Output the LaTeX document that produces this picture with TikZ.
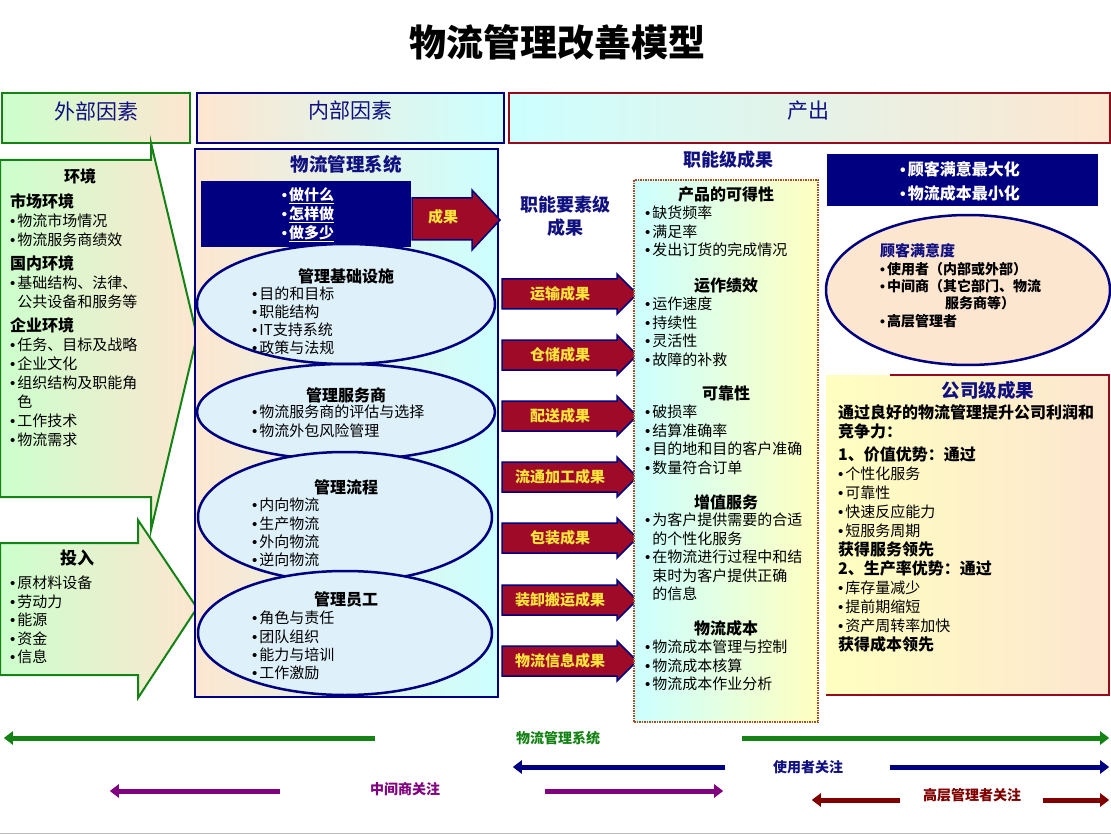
\documentclass[tikz,border=0pt]{standalone}
\usepackage{fontspec}
\setmainfont{Noto Sans CJK SC}
\newfontfamily\bulletfont{Liberation Sans}
\usetikzlibrary{arrows.meta, positioning, shapes.geometric}

\definecolor{navyblue}{RGB}{16,16,128}
\definecolor{boxnavy}{RGB}{0,0,128}
\definecolor{resred}{RGB}{158,10,40}
\definecolor{resyellow}{RGB}{255,228,60}
\definecolor{envgreen}{RGB}{20,130,20}
\definecolor{lgreen}{RGB}{204,255,204}
\definecolor{peach}{RGB}{253,230,208}
\definecolor{lcyan}{RGB}{204,255,255}
\definecolor{lyellow}{RGB}{255,255,192}
\definecolor{ellblue}{RGB}{222,240,250}
\definecolor{dotbrown}{RGB}{160,80,40}
\definecolor{corpred}{RGB}{150,10,30}
\definecolor{midpurple}{RGB}{128,0,128}
\definecolor{topred}{RGB}{128,0,0}
\newcommand{\fs}[2]{\fontsize{#1}{#2}\selectfont}
\newcommand{\hd}[1]{{\bfseries\fontsize{16}{19}\selectfont #1}}
\newcommand{\bu}{{\bulletfont •}\kern2pt}
\newcommand{\ind}{\phantom{\bu}}

\begin{document}
\begin{tikzpicture}[x=1pt, y=-1pt,
  hdr/.style={draw, line width=2pt, inner sep=0pt, minimum height=50pt},
  hdrtext/.style={font=\fs{21}{24}, text=navyblue, inner sep=0pt},
  body/.style={font=\fs{15}{18.5}, align=left, inner sep=0pt, anchor=north west},
  sect/.style={font=\bfseries\fs{16}{19}, inner sep=0pt},
  mgmt/.style={ellipse, draw=boxnavy, line width=2.5pt, fill=ellblue, inner sep=0pt},
  resarrow/.style={fill=resred, draw=boxnavy, line width=1.5pt},
  restext/.style={font=\bfseries\fs{15}{18}, text=resyellow, inner sep=0pt},
  focus/.style={line width=5pt, -{Triangle[width=13pt,length=9pt]}},
  focustext/.style={font=\bfseries\fs{14}{16}, inner sep=0pt}]
\useasboundingbox (0,0) rectangle (1111,834);

\node[font=\bfseries\fs{37}{40}, inner sep=0pt] (title) at (557,42) {物流管理改善模型};

% headers
\node[hdr, draw=envgreen, left color=lgreen, right color=peach, minimum width=188pt] (waibu) at (96,118) {};
\node[hdr, draw=boxnavy, left color=peach, right color=lcyan, minimum width=307pt] (neibu) at (350.5,118) {};
\node[hdr, draw=corpred, left color=lcyan, right color=peach, minimum width=601pt] (chanchu) at (809,118) {};
\node[hdrtext] (waibut) at (96,111) {外部因素};
\node[hdrtext] (neibut) at (350,111) {内部因素};
\node[hdrtext] (chanchut) at (808,111) {产出};

% external factors
\draw[draw=envgreen, line width=2pt, left color=lgreen, right color=peach]
  (0,160) -- (151,160) -- (151,143) -- (197,336) -- (151,530) -- (151,497) -- (0,497) -- cycle;
\draw[draw=envgreen, line width=2pt, left color=lgreen, right color=peach]
  (0,543) -- (138,543) -- (138,520) -- (197,608) -- (138,698) -- (138,675) -- (0,675) -- cycle;
\node[sect] (huanjing) at (80,176) {环境};
\node[body, font=\fs{15}{19}] (huanjinglist) at (10,193) {\hd{市场环境}\\\bu 物流市场情况\\\bu 物流服务商绩效\\[5pt]\hd{国内环境}\\\bu 基础结构、法律、\\\ind 公共设备和服务等\\[5pt]\hd{企业环境}\\\bu 任务、目标及战略\\\bu 企业文化\\\bu 组织结构及职能角\\\ind 色\\\bu 工作技术\\\bu 物流需求};
\node[sect, font=\bfseries\fs{17}{19}] (touru) at (77,558) {投入};
\node[body] (tourulist) at (10,576) {\bu 原材料设备\\\bu 劳动力\\\bu 能源\\\bu 资金\\\bu 信息};

% internal factors
\node[draw=boxnavy, line width=2pt, left color=peach, right color=lcyan, minimum width=303pt, minimum height=548pt, inner sep=0pt] (xitongbox) at (346.5,423) {};
\node[font=\bfseries\fs{18.5}{22}, text=navyblue, inner sep=0pt] (xitongt) at (346,164) {物流管理系统};
\node[fill=boxnavy, minimum width=210pt, minimum height=66pt, inner sep=0pt] (zuo) at (306,214) {};
\node[font=\bfseries\fs{15}{19}, text=white, align=left, inner sep=0pt] (zuot) at (308,215) {\bu\underline{做什么}\\\bu\underline{怎样做}\\\bu\underline{做多少}};
\draw[resarrow] (412,198) -- (472,198) -- (472,190) -- (500,220) -- (472,250) -- (472,240) -- (412,240) -- cycle;
\node[restext] (chengguo) at (443,217) {成果};

\node[mgmt, minimum width=298pt, minimum height=120pt] (jichu) at (346,304) {};
\node[sect] (jichut) at (346,276) {管理基础设施};
\node[body, font=\fs{15}{18}] (jichulist) at (252,287) {\bu 目的和目标\\\bu 职能结构\\\bu IT支持系统\\\bu 政策与法规};
\node[mgmt, minimum width=298pt, minimum height=96pt] (fuwu) at (346,412) {};
\node[sect] (fuwut) at (346,395) {管理服务商};
\node[body, font=\fs{15}{19}] (fuwulist) at (252,405) {\bu 物流服务商的评估与选择\\\bu 物流外包风险管理};
\node[mgmt, minimum width=294pt, minimum height=130pt] (liucheng) at (345,517) {};
\node[sect] (liuchengt) at (346,487) {管理流程};
\node[body, font=\fs{15}{18.3}] (liuchenglist) at (252,498) {\bu 内向物流\\\bu 生产物流\\\bu 外向物流\\\bu 逆向物流};
\node[mgmt, minimum width=294pt, minimum height=124pt] (yuangong) at (345,633) {};
\node[sect] (yuangongt) at (346,599) {管理员工};
\node[body, font=\fs{15}{18.3}] (yuangonglist) at (252,611) {\bu 角色与责任\\\bu 团队组织\\\bu 能力与培训\\\bu 工作激励};

% function element results
\node[font=\bfseries\fs{18}{23}, text=navyblue, align=center, inner sep=0pt] (yaosu) at (565,216) {职能要素级\\成果};
\foreach \nm/\txt/\yy in {yunshu/运输成果/294, cangchu/仓储成果/355, peisong/配送成果/416,
    jiagong/流通加工成果/477, baozhuang/包装成果/538, banyun/装卸搬运成果/600, xinxi/物流信息成果/661} {
  \draw[resarrow] (502,\yy-15) -- (617,\yy-15) -- (617,\yy-20) -- (637,\yy) -- (617,\yy+20) -- (617,\yy+15) -- (502,\yy+15) -- cycle;
  \node[restext] (\nm) at (560,\yy) {\txt};
}

% function level results
\node[font=\bfseries\fs{18}{22}, text=navyblue, inner sep=0pt] (zhineng) at (728,160) {职能级成果};
\node[draw=dotbrown, line width=1.5pt, densely dotted, left color=lcyan, right color=lyellow, minimum width=184pt, minimum height=542pt, inner sep=0pt] (zhinengbox) at (726,451) {};
\node[sect] (kedexing) at (726,194) {产品的可得性};
\node[body] (kedexinglist) at (645,206) {\bu 缺货频率\\\bu 满足率\\\bu 发出订货的完成情况};
\node[sect] (yunzuo) at (726,285) {运作绩效};
\node[body] (yunzuolist) at (645,297) {\bu 运作速度\\\bu 持续性\\\bu 灵活性\\\bu 故障的补救};
\node[sect] (kekao) at (726,393) {可靠性};
\node[body] (kekaolist) at (645,405) {\bu 破损率\\\bu 结算准确率\\\bu 目的地和目的客户准确\\\bu 数量符合订单};
\node[sect] (zengzhi) at (726,502) {增值服务};
\node[body] (zengzhilist) at (645,513) {\bu 为客户提供需要的合适\\\ind 的个性化服务\\\bu 在物流进行过程中和结\\\ind 束时为客户提供正确\\\ind 的信息};
\node[sect] (chengben) at (726,628) {物流成本};
\node[body] (chengbenlist) at (645,640) {\bu 物流成本管理与控制\\\bu 物流成本核算\\\bu 物流成本作业分析};

% customer and company results
\node[fill=boxnavy, minimum width=271pt, minimum height=52pt, inner sep=0pt] (mubiao) at (962.5,180) {};
\node[font=\bfseries\fs{16}{24}, text=white, align=left, inner sep=0pt] (mubiaot) at (960,181) {\bu 顾客满意最大化\\\bu 物流成本最小化};
\node[ellipse, draw=boxnavy, line width=2.5pt, fill=peach, minimum width=284pt, minimum height=150pt, inner sep=0pt] (manyi) at (968,290) {};
\node[font=\bfseries\fs{15}{18}, text=navyblue, anchor=west, inner sep=0pt] (manyit) at (880,251) {顾客满意度};
\node[body, font=\bfseries\fs{14}{17.3}] (manyilist) at (880,262) {\bu 使用者（内部或外部）\\\bu 中间商（其它部门、物流\\\hspace*{65pt}服务商等）\\\bu 高层管理者};

\path[left color=lyellow, right color=peach] (826,375) rectangle (1109,695);
\draw[corpred, line width=2.5pt] (890,375) -- (1109,375) -- (1109,695) -- (826,695);
\node[font=\bfseries\fs{18.5}{22}, text=navyblue, inner sep=0pt] (gongsi) at (988,390) {公司级成果};
\node[body, font=\fs{15}{19}] (gongsilist) at (838,404) {\hd{通过良好的物流管理提升公司利润和}\\\hd{竞争力：}\\[4pt]\hd{1、价值优势：通过}\\\bu 个性化服务\\\bu 可靠性\\\bu 快速反应能力\\\bu 短服务周期\\\hd{获得服务领先}\\\hd{2、生产率优势：通过}\\\bu 库存量减少\\\bu 提前期缩短\\\bu 资产周转率加快\\\hd{获得成本领先}};

% concerns
\node[focustext, text=envgreen] (xitong) at (558,738) {物流管理系统};
\draw[focus, envgreen] ([xshift=-141pt]xitong.west) -- ++(-371,0);
\draw[focus, envgreen] ([xshift=142pt]xitong.east) -- ++(367,0);
\node[focustext, text=navyblue] (shiyong) at (808,767) {使用者关注};
\draw[focus, boxnavy] ([xshift=-48pt]shiyong.west) -- ++(-212,0);
\draw[focus, boxnavy] ([xshift=47pt]shiyong.east) -- ++(219,0);
\node[focustext, text=midpurple] (zhongjian) at (405,789) {中间商关注};
\draw[focus, midpurple] ([xshift=-90pt,yshift=-2pt]zhongjian.west) -- ++(-170,0);
\draw[focus, midpurple] ([xshift=105pt,yshift=-2pt]zhongjian.east) -- ++(178,0);
\node[focustext, text=topred] (gaoceng) at (972,795) {高层管理者关注};
\draw[focus, topred] ([xshift=-23pt,yshift=-5pt]gaoceng.west) -- ++(-88,0);
\draw[focus, topred] ([xshift=22pt,yshift=-5pt]gaoceng.east) -- ++(66,0);

\draw[gray!50, line width=1pt] (0,833) -- (1111,833);
\end{tikzpicture}
\end{document}
